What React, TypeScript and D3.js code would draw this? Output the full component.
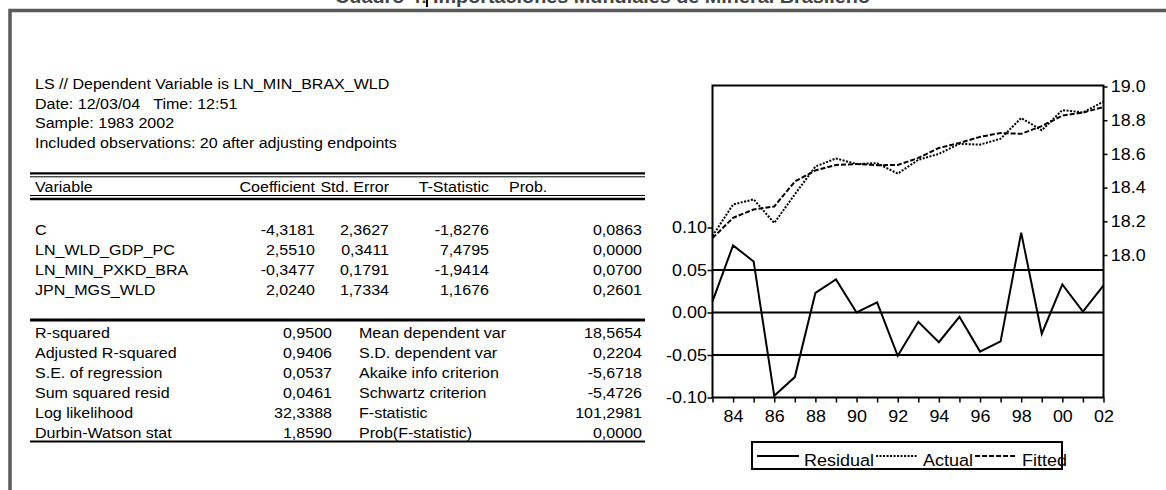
import { useEffect, useRef } from "react";
import * as d3 from "d3";

// EViews output: least squares estimation table + residual/actual/fitted graph
const years = [1983, 1984, 1985, 1986, 1987, 1988, 1989, 1990, 1991, 1992, 1993, 1994, 1995, 1996, 1997, 1998, 1999, 2000, 2001, 2002];
const residual = [0.013, 0.079, 0.06, -0.098, -0.076, 0.023, 0.039, 0.0, 0.012, -0.051, -0.011, -0.035, -0.005, -0.046, -0.034, 0.094, -0.025, 0.033, 0.001, 0.032];
const actual = [18.113, 18.3, 18.33, 18.19, 18.36, 18.525, 18.573, 18.54, 18.545, 18.483, 18.565, 18.6, 18.66, 18.655, 18.69, 18.813, 18.74, 18.86, 18.846, 18.91];
const fitted = [18.1, 18.221, 18.27, 18.288, 18.436, 18.502, 18.534, 18.54, 18.533, 18.534, 18.576, 18.635, 18.665, 18.701, 18.724, 18.719, 18.765, 18.827, 18.845, 18.878];

const residTicks = [-0.1, -0.05, 0, 0.05, 0.1];
const residGrid = [-0.05, 0, 0.05];
const levelTicks = [18.0, 18.2, 18.4, 18.6, 18.8, 19.0];
const seriesNames = ["Residual", "Actual", "Fitted"];

const pageTitle = "Cuadro 4: Importaciones Mundiales de Mineral Brasileño";
const headerLines = [
  "LS // Dependent Variable is LN_MIN_BRAX_WLD",
  "Date: 12/03/04   Time: 12:51",
  "Sample: 1983 2002",
  "Included observations: 20 after adjusting endpoints",
];
const columnHeads = ["Variable", "Coefficient", "Std. Error", "T-Statistic", "Prob."];
const variables = ["C", "LN_WLD_GDP_PC", "LN_MIN_PXKD_BRA", "JPN_MGS_WLD"];
const coefficients = [-4.3181, 2.551, -0.3477, 2.024];
const stdErrors = [2.3627, 0.3411, 0.1791, 1.7334];
const tStats = [-1.8276, 7.4795, -1.9414, 1.1676];
const probs = [0.0863, 0.0, 0.07, 0.2601];

const statNamesLeft = ["R-squared", "Adjusted R-squared", "S.E. of regression", "Sum squared resid", "Log likelihood", "Durbin-Watson stat"];
const statValuesLeft = [0.95, 0.9406, 0.0537, 0.0461, 32.3388, 1.859];
const statNamesRight = ["Mean dependent var", "S.D. dependent var", "Akaike info criterion", "Schwartz criterion", "F-statistic", "Prob(F-statistic)"];
const statValuesRight = [18.5654, 0.2204, -5.6718, -5.4726, 101.2981, 0.0];

const FONT = "'Liberation Sans', Arial, Helvetica, sans-serif";
const W = 1166;
const H = 490;

const commaFmt = d3.formatLocale({ decimal: ",", thousands: ".", grouping: [3], currency: ["", ""], minus: "-" }).format(".4f");
const dotLocale = d3.formatLocale({ decimal: ".", thousands: ",", grouping: [3], currency: ["", ""], minus: "-" });

export default function App() {
  const svgRef = useRef<SVGSVGElement>(null);

  useEffect(() => {
    const svg = d3.select(svgRef.current);
    svg.selectAll("*").remove();

    // stretched text, the source image is a bit wider than it is tall
    const text = (g: any, x: number, y: number, s: string, anchor = "start", sx = 1.07) =>
      g
        .append("text")
        .attr("transform", `translate(${x},${y}) scale(${sx},1)`)
        .attr("text-anchor", anchor)
        .style("white-space", "pre")
        .text(s);

    // page frame + cut-off title
    svg.append("rect").attr("width", W).attr("height", H).attr("fill", "#fff");
    svg
      .append("path")
      .attr("d", `M10,${H + 5}V10.5H${W + 5}`)
      .attr("fill", "none")
      .attr("stroke", "#5a5a5a")
      .attr("stroke-width", 3.5);
    svg
      .append("text")
      .attr("x", 335)
      .attr("y", 3)
      .attr("textLength", 535)
      .attr("lengthAdjust", "spacingAndGlyphs")
      .attr("font-family", FONT)
      .attr("font-weight", "bold")
      .attr("font-size", 18)
      .attr("fill", "#444")
      .text(pageTitle);
    svg.append("rect").attr("x", 426).attr("y", 0).attr("width", 2).attr("height", 7).attr("fill", "#000");

    // ---- estimation table ----
    const tbl = svg.append("g").attr("font-family", FONT).attr("font-size", 15).attr("fill", "#000");
    headerLines.forEach((s, i) => text(tbl, 35, 89 + i * 19.7, s));

    const rule = (y: number, w: number) =>
      tbl.append("line").attr("x1", 30).attr("x2", 645).attr("y1", y).attr("y2", y).attr("stroke", "#000").attr("stroke-width", w);
    rule(173.3, 2.2);
    rule(176.8, 1);
    rule(195.5, 1);
    rule(199, 2.5);
    rule(320, 3);
    rule(441.5, 1.8);

    const colRight = [315, 389, 489, 642];
    text(tbl, 35, 192, columnHeads[0]);
    text(tbl, colRight[0], 192, columnHeads[1], "end");
    text(tbl, colRight[1], 192, columnHeads[2], "end");
    text(tbl, colRight[2], 192, columnHeads[3], "end");
    text(tbl, 509, 192, columnHeads[4]);

    const rowY = (i: number) => 235 + i * 20;
    variables.forEach((v, i) => {
      text(tbl, 35, rowY(i), v);
      text(tbl, colRight[0], rowY(i), commaFmt(coefficients[i]), "end");
      text(tbl, colRight[1], rowY(i), commaFmt(stdErrors[i]), "end");
      text(tbl, colRight[2], rowY(i), commaFmt(tStats[i]), "end");
      text(tbl, colRight[3], rowY(i), commaFmt(probs[i]), "end");
    });

    const statY = (i: number) => 338 + i * 20;
    statNamesLeft.forEach((s, i) => {
      text(tbl, 35, statY(i), s);
      text(tbl, 332, statY(i), commaFmt(statValuesLeft[i]), "end");
      text(tbl, 359, statY(i), statNamesRight[i]);
      text(tbl, colRight[3], statY(i), commaFmt(statValuesRight[i]), "end");
    });

    // ---- residual / actual / fitted graph ----
    const left = 712.5;
    const right = 1103.5;
    const top = 85.5;
    const bottom = 397.5;
    const x = d3.scaleLinear().domain([1983, 2002]).range([left, right]);
    const yRes = d3.scaleLinear().domain([-0.1, 0.1]).range([bottom, 227.5]);
    const yLev = d3.scaleLinear().domain([18, 19]).range([255, 86.5]);

    const plot = svg.append("g").attr("font-family", FONT).attr("font-size", 16);

    plot
      .selectAll("line.grid")
      .data(residGrid)
      .join("line")
      .attr("class", "grid")
      .attr("x1", left)
      .attr("x2", right)
      .attr("y1", (d) => yRes(d))
      .attr("y2", (d) => yRes(d))
      .attr("stroke", "#000")
      .attr("stroke-width", 2);

    const lineRes = d3
      .line<number>()
      .x((_, i) => x(years[i]))
      .y((d) => yRes(d));
    const lineLev = d3
      .line<number>()
      .x((_, i) => x(years[i]))
      .y((d) => yLev(d));

    plot.append("path").attr("d", lineRes(residual)).attr("fill", "none").attr("stroke", "#000").attr("stroke-width", 2);
    plot
      .append("path")
      .attr("d", lineLev(actual))
      .attr("fill", "none")
      .attr("stroke", "#000")
      .attr("stroke-width", 2)
      .attr("stroke-dasharray", "2,1.5");
    plot
      .append("path")
      .attr("d", lineLev(fitted))
      .attr("fill", "none")
      .attr("stroke", "#000")
      .attr("stroke-width", 2)
      .attr("stroke-dasharray", "5,2");

    plot
      .append("rect")
      .attr("x", left)
      .attr("y", top)
      .attr("width", right - left)
      .attr("height", bottom - top)
      .attr("fill", "none")
      .attr("stroke", "#000")
      .attr("stroke-width", 2);

    const styleAxis = (g: any) => {
      g.select(".domain").remove();
      g.selectAll(".tick line").attr("stroke", "#000").attr("stroke-width", 1.5);
      g.selectAll(".tick text")
        .attr("fill", "#000")
        .attr("font-size", 16)
        .attr("font-family", FONT)
        .attr("transform", "scale(1.12,1)");
    };

    plot
      .append("g")
      .attr("transform", `translate(${left},0)`)
      .call(d3.axisLeft(yRes).tickValues(residTicks).tickSize(5).tickPadding(0).tickFormat(dotLocale.format(".2f")))
      .call(styleAxis);

    plot
      .append("g")
      .attr("transform", `translate(${right},0)`)
      .call(d3.axisRight(yLev).tickValues(levelTicks).tickSize(4).tickPadding(2.5).tickFormat(dotLocale.format(".1f")))
      .call(styleAxis);

    plot
      .append("g")
      .attr("transform", `translate(0,${bottom})`)
      .call(
        d3
          .axisBottom(x)
          .tickValues(years)
          .tickSize(5)
          .tickPadding(8)
          .tickFormat((d: any) => (d % 2 === 0 ? d3.format("02d")(d % 100) : ""))
      )
      .call(styleAxis);

    // ---- legend ----
    const lg = svg.append("g").attr("font-family", FONT).attr("font-size", 17);
    lg.append("rect")
      .attr("x", 752)
      .attr("y", 442)
      .attr("width", 310)
      .attr("height", 27)
      .attr("fill", "none")
      .attr("stroke", "#000")
      .attr("stroke-width", 2);
    const dashes = [null, "2,1.5", "5,2"];
    const legendScale = 1.06;
    let cx = 757;
    seriesNames.forEach((name, i) => {
      lg.append("line")
        .attr("x1", cx)
        .attr("x2", cx + 42)
        .attr("y1", 456)
        .attr("y2", 456)
        .attr("stroke", "#000")
        .attr("stroke-width", 2)
        .attr("stroke-dasharray", dashes[i]);
      const t = text(lg, cx + 47, 465.5, name, "start", legendScale);
      const w = (t.node() as SVGTextElement).getComputedTextLength() * legendScale;
      cx += 47 + w + 2;
    });
  }, []);

  return <svg ref={svgRef} width={W} height={H} style={{ position: "absolute", left: 0, top: 0 }} />;
}
